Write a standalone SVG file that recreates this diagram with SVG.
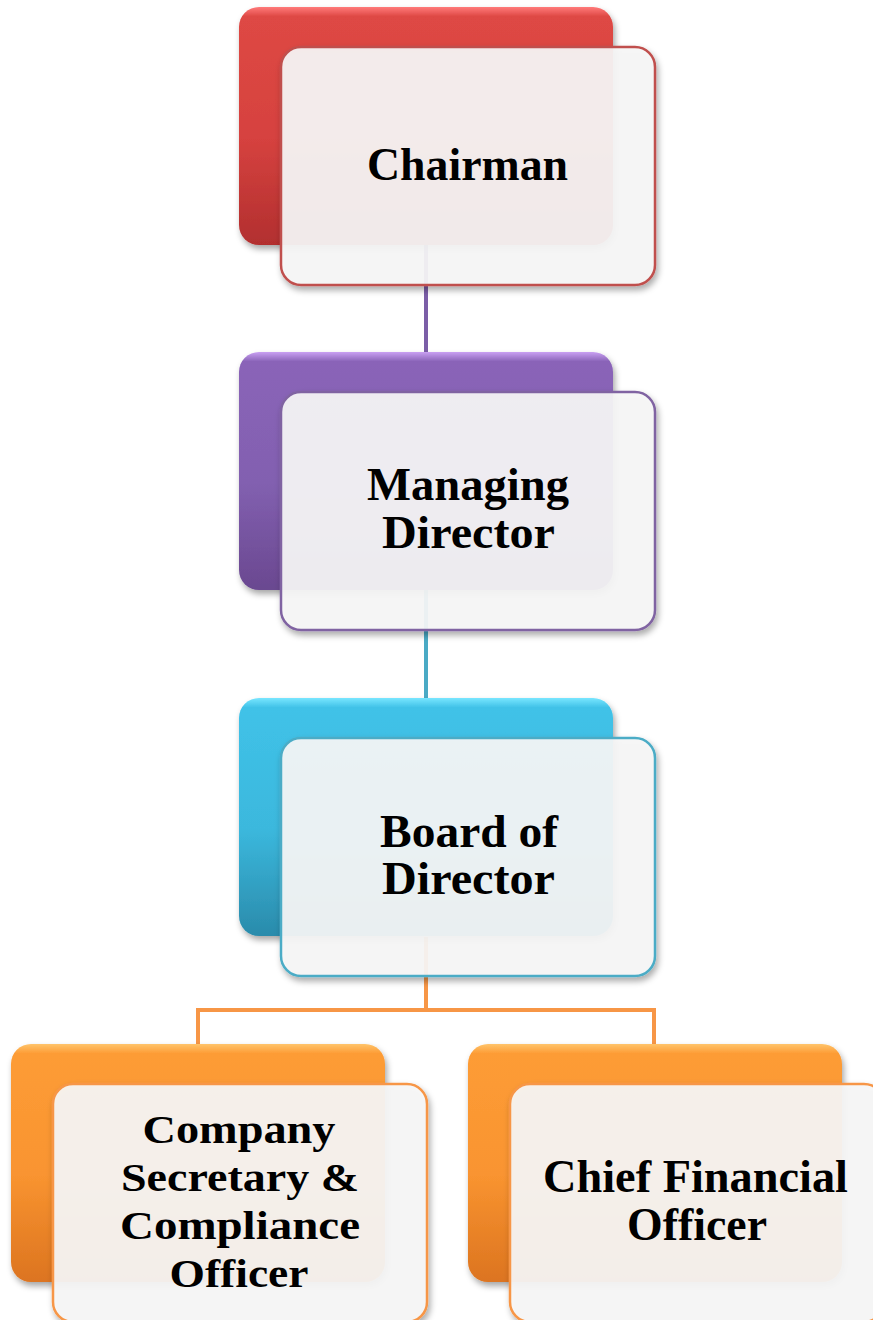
<svg xmlns="http://www.w3.org/2000/svg" width="873" height="1320" viewBox="0 0 873 1320">
<defs>
<linearGradient id="gRed" x1="0" y1="0" x2="0" y2="1">
<stop offset="0" stop-color="#ff7a7a"/><stop offset="0.04" stop-color="#de4844"/><stop offset="0.55" stop-color="#d6423f"/><stop offset="1" stop-color="#b22f2f"/>
</linearGradient>
<linearGradient id="gPur" x1="0" y1="0" x2="0" y2="1">
<stop offset="0" stop-color="#c9a0f2"/><stop offset="0.04" stop-color="#8a64b8"/><stop offset="0.55" stop-color="#8260b0"/><stop offset="1" stop-color="#6a4890"/>
</linearGradient>
<linearGradient id="gBlu" x1="0" y1="0" x2="0" y2="1">
<stop offset="0" stop-color="#78e6ff"/><stop offset="0.04" stop-color="#40c2e8"/><stop offset="0.55" stop-color="#3bb8dd"/><stop offset="1" stop-color="#2a8bab"/>
</linearGradient>
<linearGradient id="gOra" x1="0" y1="0" x2="0" y2="1">
<stop offset="0" stop-color="#ffc46a"/><stop offset="0.04" stop-color="#fd9c36"/><stop offset="0.55" stop-color="#f99430"/><stop offset="1" stop-color="#dc7420"/>
</linearGradient>
<filter id="sh" x="-10%" y="-10%" width="120%" height="125%">
<feDropShadow dx="2" dy="4" stdDeviation="3" flood-color="#000" flood-opacity="0.35"/>
</filter>
</defs>
<style>
.back{filter:url(#sh)}
.front{fill:#f7f7f7;fill-opacity:0.92;stroke-width:2.5;filter:url(#sh)}
.lbl{font-family:"Liberation Serif","Times New Roman",serif;font-weight:bold;font-size:47px;fill:#000;text-anchor:middle}
.sm{font-size:41px}
.con{fill:none;stroke-width:4}
</style>
<g id="connectors">
<line class="con" x1="426" y1="245" x2="426" y2="352" stroke="#7b5ea7"/>
<line class="con" x1="426" y1="590" x2="426" y2="698" stroke="#4aaac5"/>
<path class="con" d="M426 937 V1010 M198 1044 V1010 H654 V1044" stroke="#f79646"/>
</g>
<g id="chairman">
<rect class="back" x="239" y="7" width="374" height="238" rx="20" fill="url(#gRed)"/>
<rect class="front" x="281" y="47" width="374" height="238" rx="20" stroke="#c0504d"/>
<text class="lbl" x="467.5" y="180" textLength="201" lengthAdjust="spacingAndGlyphs">Chairman</text>
</g>
<g id="managing-director">
<rect class="back" x="239" y="352" width="374" height="238" rx="20" fill="url(#gPur)"/>
<rect class="front" x="281" y="392" width="374" height="238" rx="20" stroke="#8064a2"/>
<text class="lbl" x="468" y="500" textLength="202" lengthAdjust="spacingAndGlyphs">Managing</text>
<text class="lbl" x="468.5" y="548" textLength="173" lengthAdjust="spacingAndGlyphs">Director</text>
</g>
<g id="board-of-director">
<rect class="back" x="239" y="698" width="374" height="238" rx="20" fill="url(#gBlu)"/>
<rect class="front" x="281" y="738" width="374" height="238" rx="20" stroke="#4bacc6"/>
<text class="lbl" x="469" y="847" textLength="178" lengthAdjust="spacingAndGlyphs">Board of</text>
<text class="lbl" x="468.5" y="894" textLength="173" lengthAdjust="spacingAndGlyphs">Director</text>
</g>
<g id="company-secretary">
<rect class="back" x="11" y="1044" width="374" height="238" rx="20" fill="url(#gOra)"/>
<rect class="front" x="53" y="1084" width="374" height="238" rx="20" stroke="#f79646"/>
<text class="lbl sm" x="239" y="1143" textLength="193" lengthAdjust="spacingAndGlyphs">Company</text>
<text class="lbl sm" x="240" y="1191" textLength="238" lengthAdjust="spacingAndGlyphs">Secretary &amp;</text>
<text class="lbl sm" x="240" y="1239" textLength="240" lengthAdjust="spacingAndGlyphs">Compliance</text>
<text class="lbl sm" x="239" y="1287" textLength="139" lengthAdjust="spacingAndGlyphs">Officer</text>
</g>
<g id="cfo">
<rect class="back" x="468" y="1044" width="374" height="238" rx="20" fill="url(#gOra)"/>
<rect class="front" x="510" y="1084" width="374" height="238" rx="20" stroke="#f79646"/>
<text class="lbl" x="695.5" y="1192" textLength="305" lengthAdjust="spacingAndGlyphs">Chief Financial</text>
<text class="lbl" x="697" y="1240" textLength="140" lengthAdjust="spacingAndGlyphs">Officer</text>
</g>
</svg>
